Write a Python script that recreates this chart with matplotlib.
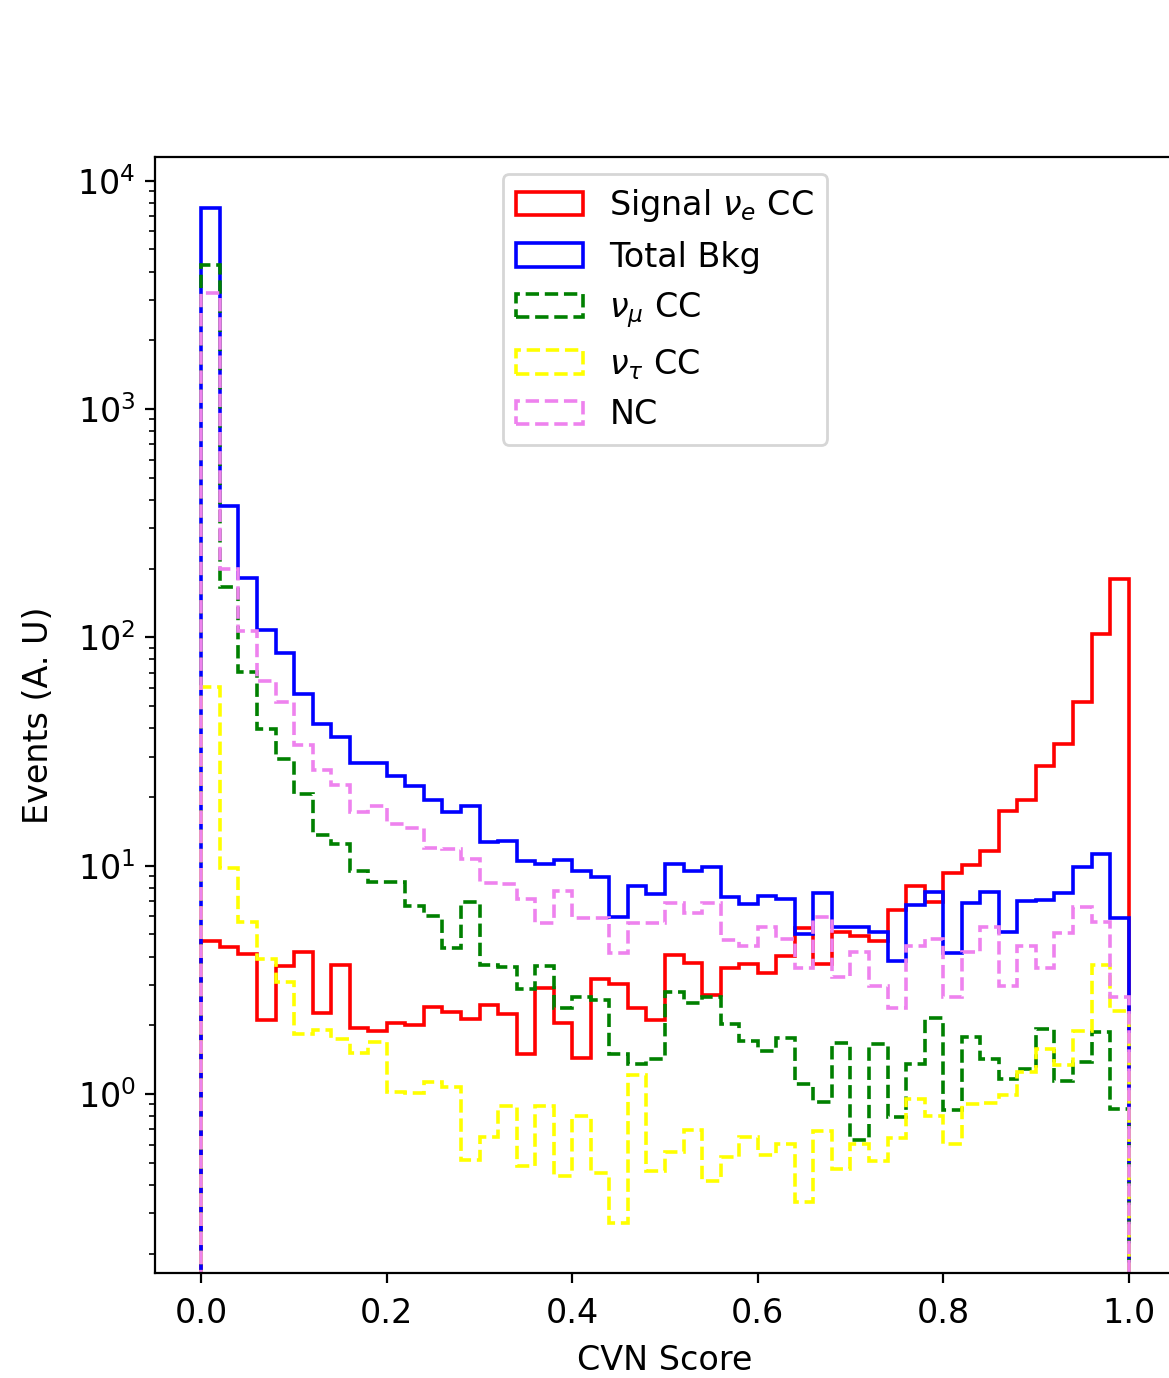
import matplotlib
matplotlib.use("Agg")
import matplotlib.pyplot as plt
import numpy as np

# 50 bins of CVN score
bin_edges = np.linspace(0.0, 1.0, 51)

signal_nue = [4.68, 4.40, 4.09, 2.11, 3.64, 4.20, 2.27, 3.67, 1.95, 1.89,
              2.04, 2.01, 2.40, 2.28, 2.13, 2.45, 2.24, 1.50, 2.90, 2.05,
              1.44, 3.18, 3.02, 2.39, 2.11, 4.06, 3.74, 2.70, 3.57, 3.70,
              3.40, 4.03, 5.32, 3.70, 5.11, 4.92, 4.68, 6.40, 8.15, 6.91,
              9.26, 10.1, 11.6, 17.4, 19.3, 27.3, 34.0, 51.9, 103, 180]

total_bkg = [7600, 377, 182, 108, 85.2, 56.3, 41.6, 36.7, 28.1, 28.3,
             24.7, 22.3, 19.3, 17.2, 18.3, 12.7, 12.8, 10.5, 10.2, 10.6,
             9.46, 8.95, 5.94, 8.17, 7.52, 10.2, 9.46, 9.84, 7.27, 6.80,
             7.39, 7.12, 5.02, 7.57, 5.41, 5.37, 5.14, 3.83, 6.73, 7.69,
             4.13, 6.84, 7.69, 5.14, 7.03, 7.07, 7.57, 9.84, 11.2, 5.88]

numu_cc = [4280, 166, 70.3, 39.6, 29.3, 20.5, 13.6, 12.4, 9.51, 8.46,
           8.5, 6.68, 6.04, 4.37, 6.91, 3.67, 3.59, 2.87, 3.64, 2.37,
           2.67, 2.58, 1.50, 1.35, 1.42, 2.79, 2.51, 2.65, 2.02, 1.71,
           1.55, 1.75, 1.11, 0.925, 1.68, 0.629, 1.65, 0.795, 1.35, 2.15,
           0.851, 1.78, 1.42, 1.16, 1.29, 1.93, 1.14, 1.38, 1.86, 0.857]

nutau_cc = [60.5, 9.8, 5.68, 3.89, 3.10, 1.83, 1.91, 1.74, 1.51, 1.69,
            1.02, 1.01, 1.13, 1.07, 0.514, 0.650, 0.889, 0.485, 0.889, 0.437,
            0.801, 0.450, 0.273, 1.21, 0.460, 0.556, 0.695, 0.416, 0.528, 0.650,
            0.541, 0.602, 0.338, 0.689, 0.468, 0.602, 0.509, 0.644, 0.951, 0.801,
            0.602, 0.904, 0.916, 0.99, 1.25, 1.57, 1.34, 1.89, 3.67, 2.32]

nc = [3215, 199, 107, 64.4, 52.3, 33.8, 26.2, 22.6, 17.2, 18.3,
      15.2, 14.6, 12.0, 11.8, 10.7, 8.37, 8.31, 7.12, 5.63, 7.77,
      5.92, 5.92, 4.13, 5.63, 5.63, 6.84, 6.23, 6.84, 4.73, 4.45,
      5.37, 4.76, 3.57, 5.98, 3.26, 4.17, 2.97, 2.37, 4.46, 4.77,
      2.67, 4.17, 5.37, 2.97, 4.46, 3.57, 5.06, 6.57, 5.65, 2.67]

series = [
    (signal_nue, "red", "solid", r"Signal $\nu_e$ CC"),
    (total_bkg, "blue", "solid", "Total Bkg"),
    (numu_cc, "green", "dashed", r"$\nu_\mu$ CC"),
    (nutau_cc, "yellow", "dashed", r"$\nu_\tau$ CC"),
    (nc, "violet", "dashed", "NC"),
]


def main():
    plt.rcParams['font.size'] = 12
    fig = plt.figure(figsize=(5.845, 6.89), dpi=200)
    ax = fig.add_axes([155 / 1169, 105 / 1378, 1020 / 1169, 1116 / 1378])
    centers = 0.5 * (bin_edges[:-1] + bin_edges[1:])
    for vals, color, ls, label in series:
        ax.hist(centers, bins=bin_edges, weights=vals, histtype='step',
                color=color, linestyle=ls, linewidth=1.3, label=label)
    ax.set_yscale('log')
    ax.set_xlim(-0.05, 1.05)
    ax.set_ylim(0.1644, 12700)
    ax.tick_params(axis='x', pad=5)
    ax.set_xlabel("CVN Score", labelpad=5)
    ax.set_ylabel("Events (A. U)", labelpad=8)
    ax.legend(loc='upper center', fontsize=12)
    fig.savefig("out.png", dpi=200)


if __name__ == "__main__":
    main()
